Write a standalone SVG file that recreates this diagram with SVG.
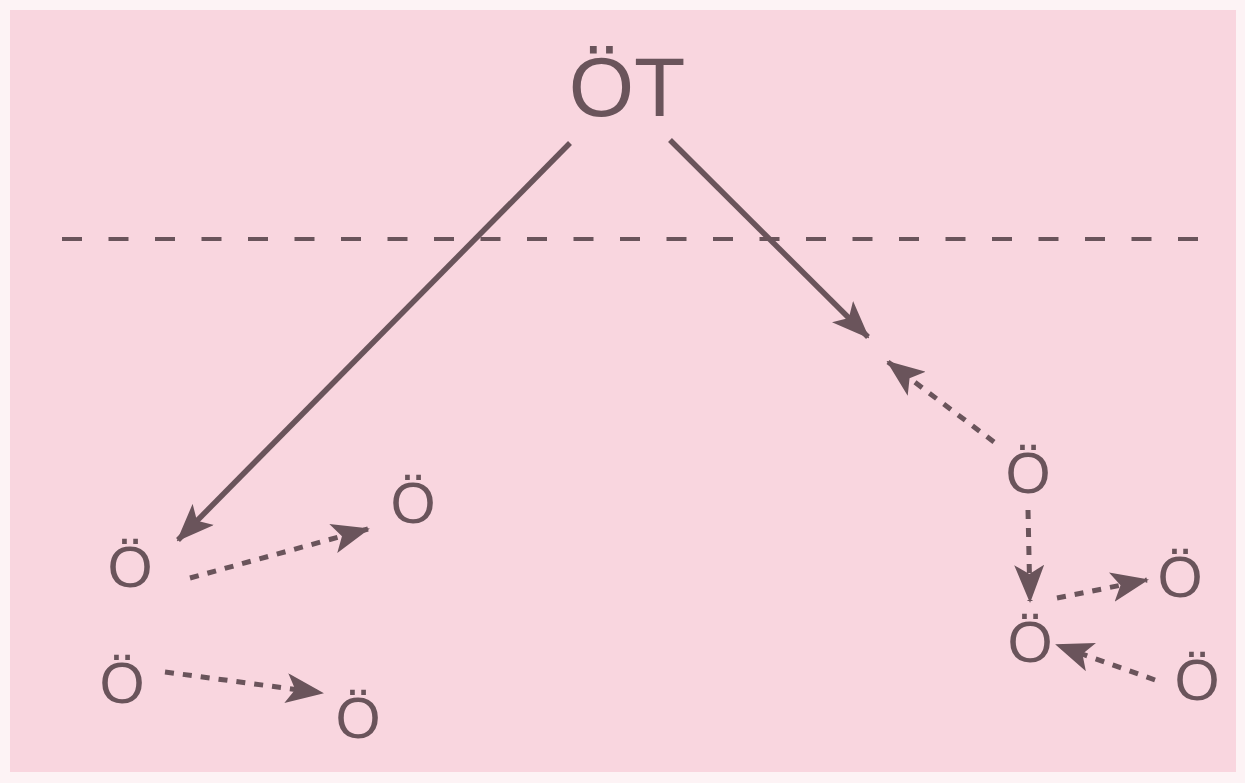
<svg xmlns="http://www.w3.org/2000/svg" width="1245" height="783" viewBox="0 0 1245 783">
<defs>
<style>
.lbl{font-family:"Liberation Sans",Arial,sans-serif;fill:#6a545b;text-anchor:middle}
.big{font-size:84px}
.sm{font-size:58px}
.solid{stroke:#6a545b;stroke-width:5.5;fill:none}
.dash{stroke:#6a545b;stroke-width:5;fill:none;stroke-dasharray:9 9}
</style>
<marker id="ah" markerUnits="userSpaceOnUse" markerWidth="38" markerHeight="30" viewBox="0 0 38 30" refX="36" refY="15" orient="auto">
<path d="M0,0 L38,15 L0,30 L9,15 z" fill="#6a545b"/>
</marker>
</defs>
<rect x="0" y="0" width="1245" height="783" fill="#fdf3f5"/>
<rect x="10" y="10" width="1226" height="762" fill="#f9d6df"/>
<g id="boundary">
<line x1="62" y1="239" x2="1200" y2="239" stroke="#6a545b" stroke-width="4" stroke-dasharray="20 26.5"/>
</g>
<g id="connectors">
<line class="solid" x1="570" y1="143" x2="178" y2="540" marker-end="url(#ah)"/>
<line class="solid" x1="670" y1="140" x2="868" y2="337" marker-end="url(#ah)"/>
<line class="dash" x1="190" y1="578" x2="368" y2="529" marker-end="url(#ah)"/>
<line class="dash" x1="165" y1="672" x2="322" y2="693" marker-end="url(#ah)"/>
<line class="dash" x1="994" y1="442" x2="888" y2="362" marker-end="url(#ah)"/>
<line class="dash" x1="1028" y1="510" x2="1030" y2="601" marker-end="url(#ah)"/>
<line class="dash" x1="1057" y1="598" x2="1147" y2="580" marker-end="url(#ah)"/>
<line class="dash" x1="1155" y1="680" x2="1057" y2="645" marker-end="url(#ah)"/>
</g>
<g id="node-OT"><text class="lbl big" x="627" y="116">ÖT</text></g>
<g id="node-L1"><text class="lbl sm" x="130" y="587">Ö</text></g>
<g id="node-L2"><text class="lbl sm" x="413" y="523">Ö</text></g>
<g id="node-L3"><text class="lbl sm" x="122" y="703">Ö</text></g>
<g id="node-L4"><text class="lbl sm" x="358" y="738">Ö</text></g>
<g id="node-R1"><text class="lbl sm" x="1028" y="493">Ö</text></g>
<g id="node-R2"><text class="lbl sm" x="1030" y="662">Ö</text></g>
<g id="node-R3"><text class="lbl sm" x="1180" y="597">Ö</text></g>
<g id="node-R4"><text class="lbl sm" x="1197" y="700">Ö</text></g>
</svg>
